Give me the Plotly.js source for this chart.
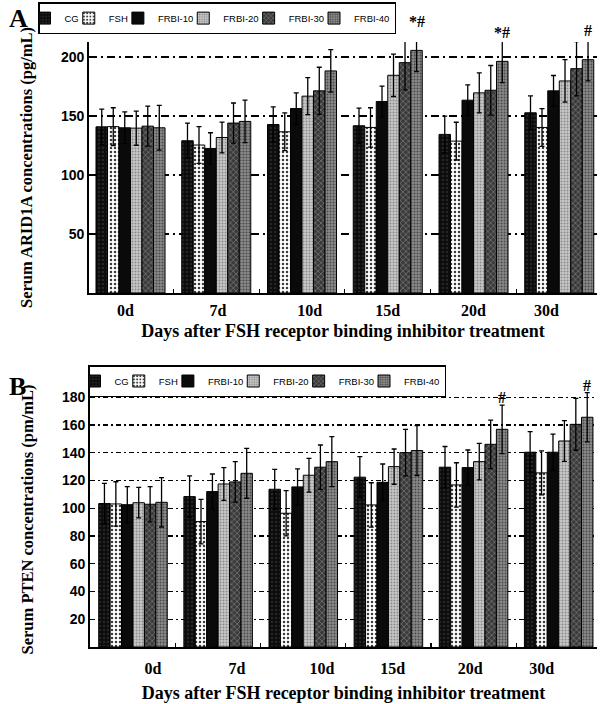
<!DOCTYPE html>
<html>
<head>
<meta charset="utf-8">
<script src="https://cdn.plot.ly/plotly-3.0.1.min.js"></script>
<style>html,body{margin:0;padding:0;background:#fff;}#chart{width:600px;height:704px;}</style>
</head>
<body>
<div id="chart"></div>
<script>
// ---------- data ----------
var days = ['0d', '7d', '10d', '15d', '20d', '30d'];
var groups = ['CG', 'FSH', 'FRBI-10', 'FRBI-20', 'FRBI-30', 'FRBI-40'];

// Panel A: Serum ARID1A (pg/mL)
var aridCG    = [140.8, 129.0, 142.8, 141.7, 134.4, 152.7];
var aridFSH   = [141.0, 125.4, 136.6, 140.3, 128.7, 140.3];
var aridF10   = [140.0, 122.5, 156.3, 162.3, 163.4, 171.3];
var aridF20   = [139.7, 131.8, 166.8, 184.5, 169.6, 179.7];
var aridF30   = [141.4, 144.0, 171.3, 195.2, 171.8, 190.1];
var aridF40   = [140.0, 145.4, 188.2, 205.6, 196.3, 197.7];
var aridCGe   = [15, 15, 15, 15, 15.5, 14.3];
var aridFSHe  = [16, 15.6, 16, 16.7, 16, 16];
var aridF10e  = [13.5, 13.3, 13.3, 13, 13, 13];
var aridF20e  = [14.5, 13, 15.7, 18, 17, 18];
var aridF30e  = [17, 17, 20, 23, 21, 23];
var aridF40e  = [19, 18, 18, 18, 18, 18];
var aridSig   = ['', '', '', '*#', '*#', '#'];   // marks above FRBI-40

// Panel B: Serum PTEN (pm/mL)
var ptenCG    = [103.4, 108.4, 113.7, 122.4, 129.6, 140.4];
var ptenFSH   = [103.1, 90.4, 96.4, 102.4, 116.8, 125.5];
var ptenF10   = [102.6, 112.0, 115.4, 118.7, 129.3, 140.4];
var ptenF20   = [104.0, 117.5, 123.8, 130.0, 133.6, 148.5];
var ptenF30   = [102.9, 119.0, 129.6, 140.1, 146.1, 160.5];
var ptenF40   = [104.3, 125.2, 133.6, 141.6, 156.9, 165.6];
var ptenCGe   = [14.6, 15, 14.4, 14.8, 14.9, 14.9];
var ptenFSHe  = [16, 16, 16.3, 16, 16, 15.9];
var ptenF10e  = [13, 12.7, 13, 13.2, 12.7, 13];
var ptenF20e  = [11, 11.8, 12.2, 12.7, 13.2, 14.7];
var ptenF30e  = [12.7, 14.6, 16, 16.8, 17.5, 18.7];
var ptenF40e  = [17.8, 18, 18, 18, 17.5, 17.8];
var ptenSig   = ['', '', '', '', '#', '#'];

var yTicksA = [50, 100, 150, 200];
var yTicksB = [20, 40, 60, 80, 100, 120, 140, 160, 180];

// ---------- styles ----------
var SERIF = '"Liberation Serif", "Times New Roman", serif';
var SANS = '"Liberation Sans", Arial, sans-serif';
var styles = [
  {color: '#0e0e0e', pattern: {shape: '.', bgcolor: '#0c0c0c', fgcolor: '#262626', size: 4, solidity: 0.3}},
  {color: '#ffffff', pattern: {shape: '.', bgcolor: '#ffffff', fgcolor: '#3a3a3a', size: 4, solidity: 0.3}},
  {color: '#0a0a0a', pattern: {shape: '', bgcolor: '#0a0a0a', fgcolor: '#0a0a0a'}},
  {color: '#c2c2c2', pattern: {shape: '.', bgcolor: '#c8c8c8', fgcolor: '#8a8a8a', size: 3, solidity: 0.35}},
  {color: '#3c3c3c', pattern: {shape: 'x', bgcolor: '#3a3a3a', fgcolor: '#8e8e8e', size: 4, solidity: 0.25}},
  {color: '#7e7e7e', pattern: {shape: '.', bgcolor: '#8a8a8a', fgcolor: '#4a4a4a', size: 3, solidity: 0.35}}
];
var BARGAP = 0.195;
var labelShiftA = [-0.06, 0.02, 0.09, 0.0, 0.0, -0.15];
var labelShiftB = [0.235, 0.22, 0.22, 0.05, -0.04, -0.2];
var domA = {x: [89 / 600, 597 / 600], y: [1 - 293 / 704, 1 - 42 / 704], xr: [-0.484, 5.44], yr: [0, 212.7]};
var domB = {x: [90 / 600, 597 / 600], y: [1 - 647 / 704, 1 - 392 / 704], xr: [-0.505, 5.45], yr: [0, 183.8]};

var idx = days.map(function (d, i) { return i; });
var seriesA = [[aridCG, aridCGe], [aridFSH, aridFSHe], [aridF10, aridF10e], [aridF20, aridF20e], [aridF30, aridF30e], [aridF40, aridF40e]];
var seriesB = [[ptenCG, ptenCGe], [ptenFSH, ptenFSHe], [ptenF10, ptenF10e], [ptenF20, ptenF20e], [ptenF30, ptenF30e], [ptenF40, ptenF40e]];

function makeTraces(series, xa, ya, legendId) {
  return series.map(function (s, k) {
    return {
      type: 'bar', name: groups[k], x: idx, y: s[0],
      xaxis: xa, yaxis: ya, legend: legendId, cliponaxis: false,
      marker: {color: styles[k].color, pattern: styles[k].pattern, line: {color: '#000', width: 1}},
      error_y: {type: 'data', array: s[1], visible: true, color: '#000', thickness: 1.3, width: 2.5},
      hoverinfo: 'skip'
    };
  });
}
var data = makeTraces(seriesA, 'x', 'y', 'legend').concat(makeTraces(seriesB, 'x2', 'y2', 'legend2'));

// significance marks above the last bar of each group (y converted to paper so it may sit above the axis top)
var nS = groups.length, bw = (1 - BARGAP) / nS, lastOff = -(1 - BARGAP) / 2 + (nS - 0.5) * bw;
var annotations = [];
function addSig(sig, vals, errs, xr, dom) {
  sig.forEach(function (t, i) {
    if (!t) return;
    var v = vals[i] + errs[i];
    var yp = dom.y[0] + (v - dom.yr[0]) / (dom.yr[1] - dom.yr[0]) * (dom.y[1] - dom.y[0]);
    annotations.push({x: i + lastOff, y: yp, xref: xr, yref: 'paper', text: t, showarrow: false,
      yanchor: 'bottom', yshift: -3, font: {family: SERIF, size: 16, color: '#000', weight: 'bold'}});
  });
}
addSig(aridSig, aridF40, aridF40e, 'x', domA);
addSig(ptenSig, ptenF40, ptenF40e, 'x2', domB);
annotations.push({x: 0.012, y: 0.997, xref: 'paper', yref: 'paper', text: 'A', showarrow: false, xanchor: 'left', yanchor: 'top',
  font: {family: SERIF, size: 26, color: '#000', weight: 'bold'}});
annotations.push({x: 0.012, y: 0.475, xref: 'paper', yref: 'paper', text: 'B', showarrow: false, xanchor: 'left', yanchor: 'top',
  font: {family: SERIF, size: 26, color: '#000', weight: 'bold'}});

var minorVals = idx.slice(0, -1).map(function (i) { return i + 0.5; });

function xAxis(dom, shifts, anchor, standoffLab, standoffTitle) {
  return {
    domain: dom.x, range: dom.xr, anchor: anchor, type: 'linear',
    tickmode: 'array', tickvals: idx.map(function (i) { return i + shifts[i]; }), ticktext: days,
    ticks: '', showgrid: false, zeroline: false, showline: true, linecolor: '#000', linewidth: 1.5,
    ticklabelstandoff: standoffLab,
    tickfont: {family: SERIF, size: 16, color: '#000', weight: 'bold'},
    minor: {tickmode: 'array', tickvals: minorVals, ticks: 'inside', ticklen: 4, tickcolor: '#000', tickwidth: 1.2, showgrid: false},
    title: {text: 'Days after FSH receptor binding inhibitor treatment', standoff: standoffTitle,
      font: {family: SERIF, size: 18, color: '#000', weight: 'bold'}},
    fixedrange: true
  };
}
function yAxis(dom, ticks, anchor, title, dash) {
  return {
    domain: dom.y, range: dom.yr, anchor: anchor,
    tickmode: 'array', tickvals: ticks, ticks: '',
    showgrid: true, gridcolor: '#000', gridwidth: 1.1, griddash: dash,
    zeroline: false, showline: true, linecolor: '#000', linewidth: 1.8,
    tickfont: {family: SANS, size: 14, color: '#000', weight: 'bold'},
    title: {text: title, standoff: 24, font: {family: SERIF, size: 16.5, color: '#000', weight: 'bold'}},
    fixedrange: true
  };
}

var legendBase = {orientation: 'h', yanchor: 'top', xanchor: 'left', bordercolor: '#000', borderwidth: 1.5,
  bgcolor: '#fff', font: {family: SANS, size: 9.5, color: '#000'}, itemwidth: 30, indentation: -15,
  itemclick: false, itemdoubleclick: false};
var layout = {
  width: 600, height: 704,
  margin: {l: 0, r: 0, t: 0, b: 0},
  paper_bgcolor: '#fff', plot_bgcolor: 'rgba(0,0,0,0)',
  barmode: 'group', bargap: BARGAP, bargroupgap: 0,
  showlegend: true,
  xaxis: xAxis(domA, labelShiftA, 'y', 2, 6),
  yaxis: yAxis(domA, yTicksA, 'x', 'Serum ARID1A concentrations (pg/mL)', '8px,4px,2px,4px'),
  xaxis2: xAxis(domB, labelShiftB, 'y2', 6, 10),
  yaxis2: yAxis(domB, yTicksB, 'x2', 'Serum PTEN concentrations (pm/mL)', '5px,3px,2px,3px'),
  legend: Object.assign({}, legendBase, {x: 38 / 600, y: 0.997}),
  legend2: Object.assign({}, legendBase, {x: 88 / 600, y: 1 - 365 / 704}),
  annotations: annotations
};

Plotly.newPlot('chart', data, layout, {displayModeBar: false, staticPlot: true});
</script>
</body>
</html>
